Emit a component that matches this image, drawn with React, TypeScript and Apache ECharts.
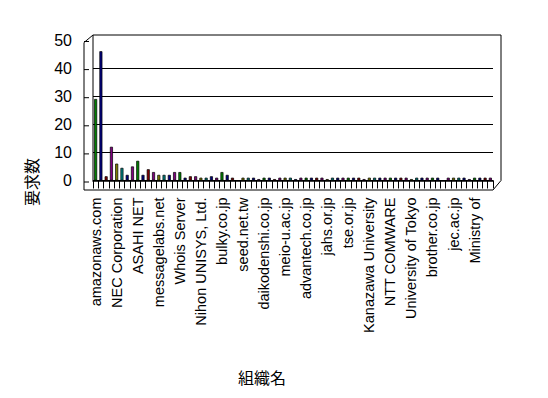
import React, { useEffect, useRef } from "react";
import * as echarts from "echarts";

// ---- data ----
const tickLabels = [
  "amazonaws.com", "NEC Corporation", "ASAHI NET", "messagelabs.net", "Whois Server",
  "Nihon UNISYS, Ltd.", "bulky.co.jp", "seed.net.tw", "daikodenshi.co.jp", "meio-u.ac.jp",
  "advantech.co.jp", "jahs.or.jp", "tse.or.jp", "Kanazawa University", "NTT COMWARE",
  "University of Tokyo", "brother.co.jp", "jec.ac.jp", "Ministry of",
];
const requests = [
  29, 46, 1.5, 12, 6, 4.5, 2, 5, 7, 2, 4, 3, 2, 2, 2, 3,
  3, 1, 1.5, 1.5, 1, 1, 1.5, 1, 3, 2, 1, 0, 1, 1, 1, 0.5,
  1, 1, 0.5, 1, 1, 1, 0.5, 1, 1, 1, 1, 1, 0.5, 1, 1, 1,
  1, 1, 1, 0.5, 1, 1, 1, 1, 1, 1, 1, 1, 0.5, 1, 1, 1,
  1, 1, 0, 1, 1, 1, 1, 0.5, 1, 1, 1, 1,
];
const yTicks = [0, 10, 20, 30, 40, 50];
const LABEL_STEP = 4;
const categories = requests.map((_, i) =>
  i % LABEL_STEP === 0 && tickLabels[i / LABEL_STEP] ? tickLabels[i / LABEL_STEP] : ""
);
const palette = ["#008000", "#000080", "#800000", "#800080", "#808000", "#008080", "#000080", "#800080"];

// ---- layout ----
const W = 548, H = 398;
const GL = 93, GR = 493, GT = 40, GB = 180.5, YMAX = 50;
const WALL_TOP = 35, DX = 9, DY = 7.5;
const yPix = (v: number) => GB - (v / YMAX) * (GB - GT);

export default function App() {
  const ref = useRef<HTMLDivElement>(null);
  useEffect(() => {
    if (!ref.current) return;
    const chart = echarts.init(ref.current, null, { renderer: "svg" });
    const line = (x1: number, y1: number, x2: number, y2: number) => ({
      type: "line", shape: { x1, y1, x2, y2 }, style: { stroke: "#000", lineWidth: 1 }, silent: true,
    });
    const graphics: any[] = [
      { type: "polyline", shape: { points: [[GL, GB], [GL, WALL_TOP], [GR + DX - 1, WALL_TOP], [GR + DX - 1, GB]] }, style: { stroke: "#000", fill: "none", lineWidth: 1 } },
      line(GL - DX, WALL_TOP + DY, GL, WALL_TOP),
      line(GL - DX, WALL_TOP + DY, GL - DX, GB + DY + 2),
      line(GL - DX, GB + DY + 2, GR, GB + DY + 2),
      line(GR, GB + DY + 2, GR + DX - 1, GB),
      ...yTicks.map((v) => line(GL - DX, yPix(v) + 1.5, GL - DX + 5, yPix(v) + 1.5)),
      {
        type: "text", x: 31, y: 182, rotation: Math.PI / 2,
        style: { text: "要求数", fill: "#000", font: '16px "Noto Sans CJK JP"', textAlign: "center", textVerticalAlign: "middle" },
      },
      {
        type: "text", x: 262, y: 377,
        style: { text: "組織名", fill: "#000", font: '16px "Noto Sans CJK JP"', textAlign: "center", textVerticalAlign: "middle" },
      },
    ];
    chart.setOption({
      animation: false,
      backgroundColor: "#fff",
      grid: { left: GL, right: W - GR, top: GT, bottom: H - GB, containLabel: false },
      xAxis: {
        type: "category",
        data: categories,
        boundaryGap: true,
        axisLine: { show: true, lineStyle: { color: "#000", width: 1.5 } },
        axisTick: { show: true, interval: 0, length: 8, lineStyle: { color: "#000" } },
        axisLabel: {
          interval: LABEL_STEP - 1, rotate: 90, margin: 17, color: "#000",
          fontFamily: "Liberation Sans", fontSize: 14.5,
        },
      },
      yAxis: {
        type: "value",
        min: 0, max: YMAX, interval: 10,
        axisLine: { show: false },
        axisTick: { show: false },
        axisLabel: { margin: 21, color: "#000", fontFamily: "Liberation Sans", fontSize: 16 },
        splitLine: { show: true, showMaxLine: false, lineStyle: { color: "#000", width: 1 } },
      },
      series: [
        {
          type: "bar",
          data: requests.map((v, i) => ({ value: v, itemStyle: { color: palette[i % palette.length] } })),
          barWidth: 3,
          itemStyle: { borderColor: "#000", borderWidth: 0.7 },
        },
      ],
      graphic: graphics,
    });
    return () => chart.dispose();
  }, []);
  return <div ref={ref} style={{ position: "absolute", left: 0, top: 0, width: W, height: H }} />;
}
